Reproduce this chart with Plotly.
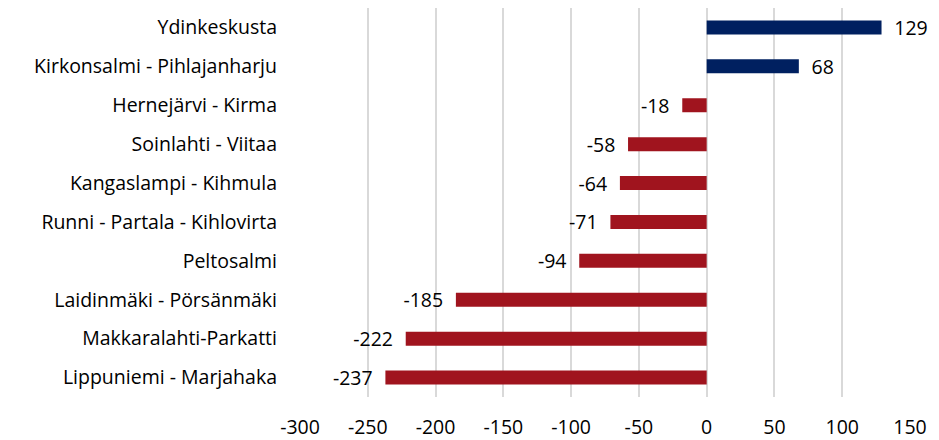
import plotly.graph_objects as go

categories = ["Ydinkeskusta", "Kirkonsalmi - Pihlajanharju", "Hernejärvi - Kirma",
              "Soinlahti - Viitaa", "Kangaslampi - Kihmula", "Runni - Partala - Kihlovirta",
              "Peltosalmi", "Laidinmäki - Pörsänmäki", "Makkaralahti-Parkatti",
              "Lippuniemi - Marjahaka"]
values = [129, 68, -18, -58, -64, -71, -94, -185, -222, -237]
tick_vals = [-300, -250, -200, -150, -100, -50, 0, 50, 100, 150]

colors = ["#002060" if v > 0 else "#A0141E" for v in values]
labels = [(f"\u2002{v}" if v > 0 else f"{v}\u2002") for v in values]
FONT = "Open Sans"
FS = 19.5

fig = go.Figure(go.Bar(
    x=values, y=categories, orientation="h",
    marker=dict(color=colors, line=dict(width=0)),
    width=0.36,
    text=labels, textposition="outside",
    constraintext="none", textangle=0,
    textfont=dict(size=FS, color="#000000", family=FONT),
    cliponaxis=False,
))
fig.update_layout(
    width=931, height=432,
    margin=dict(l=292, r=29, t=0, b=43),
    plot_bgcolor="white", paper_bgcolor="white",
    font=dict(family=FONT, size=FS, color="#000000"),
    showlegend=False,
)
fig.update_xaxes(range=[-300, 150], tickvals=tick_vals, ticktext=[str(t) for t in tick_vals],
                 showgrid=True, gridcolor="#D9D9D9", gridwidth=1.5, zeroline=False,
                 showline=False, ticks="", automargin=False, ticklabelstandoff=16,
                 tickfont=dict(size=FS, color="#000000", family=FONT))
fig.update_yaxes(autorange="reversed", showgrid=False, zeroline=False, showline=False,
                 ticks="", automargin=False, ticklabelstandoff=22,
                 tickfont=dict(size=FS, color="#000000", family=FONT))
fig.write_html("out.html")
